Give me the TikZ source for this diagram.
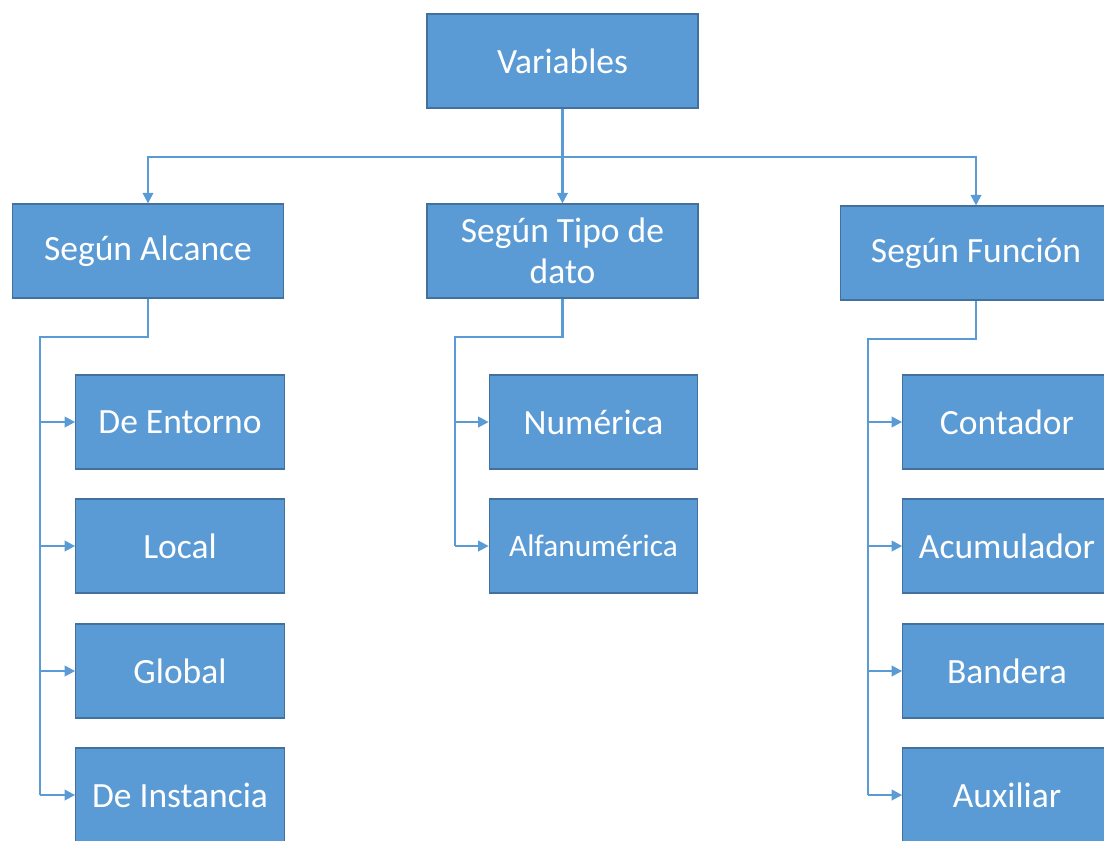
\documentclass[tikz,border=0pt]{standalone}
\usepackage{fontspec}
\setmainfont{Carlito}
\usetikzlibrary{arrows.meta}

\definecolor{boxblue}{HTML}{5B9BD5}
\definecolor{boxedge}{HTML}{41719C}

\tikzset{
  box/.style={draw=boxedge, fill=boxblue, line width=0.7pt, text=white,
    minimum width=5.42cm, minimum height=1.88cm, align=center,
    inner sep=2pt, font=\fontsize{20.2}{23.5}\selectfont},
  leaf/.style={box, minimum width=4.17cm},
  link/.style={draw=boxblue, line width=1.2pt},
  arr/.style={link, -{Triangle[length=6pt,width=6pt]}}
}

\begin{document}
\begin{tikzpicture}[x=0.02cm, y=-0.02cm]
\useasboundingbox (0,0) rectangle (1104,840);
\clip (0,0) rectangle (1104,840);

% top level
\node[box] (var) at (562.5,61) {Variables};
\node[box] (alc) at (148,251) {Según Alcance};
\node[box] (tipo) at (562.5,251) {Según Tipo de\\dato};
\node[box] (fun) at (976,253) {Según Función};

\coordinate (bus) at (562.5,157);
\draw[link] (var.south) -- (bus);
\draw[arr] (bus) -| (alc.north);
\draw[arr] (bus) -- (tipo.north);
\draw[arr] (bus) -| (fun.north);

% left column
\node[leaf] (ent) at (180,422) {De Entorno};
\node[leaf] (loc) at (180,546) {Local};
\node[leaf] (glo) at (180,671) {Global};
\node[leaf] (ins) at (180,795) {De Instancia};

\coordinate (lbus) at (40,337);
\draw[link] (alc.south) |- (lbus) -- (lbus |- ins.west);
\foreach \n in {ent,loc,glo,ins}
  \draw[arr] (lbus |- \n.west) -- (\n.west);

% middle column
\node[leaf] (num) at (593.5,422) {Numérica};
\node[leaf, font=\fontsize{17.8}{21}\selectfont] (alf) at (593.5,546) {Alfanumérica};

\coordinate (mbus) at (455,337);
\draw[link] (tipo.south) |- (mbus) -- (mbus |- alf.west);
\foreach \n in {num,alf}
  \draw[arr] (mbus |- \n.west) -- (\n.west);

% right column
\node[leaf] (con) at (1007,422) {Contador};
\node[leaf] (acu) at (1007,546) {Acumulador};
\node[leaf] (ban) at (1007,671) {Bandera};
\node[leaf] (aux) at (1007,795) {Auxiliar};

\coordinate (rbus) at (868,339);
\draw[link] (fun.south) |- (rbus) -- (rbus |- aux.west);
\foreach \n in {con,acu,ban,aux}
  \draw[arr] (rbus |- \n.west) -- (\n.west);
\end{tikzpicture}
\end{document}
